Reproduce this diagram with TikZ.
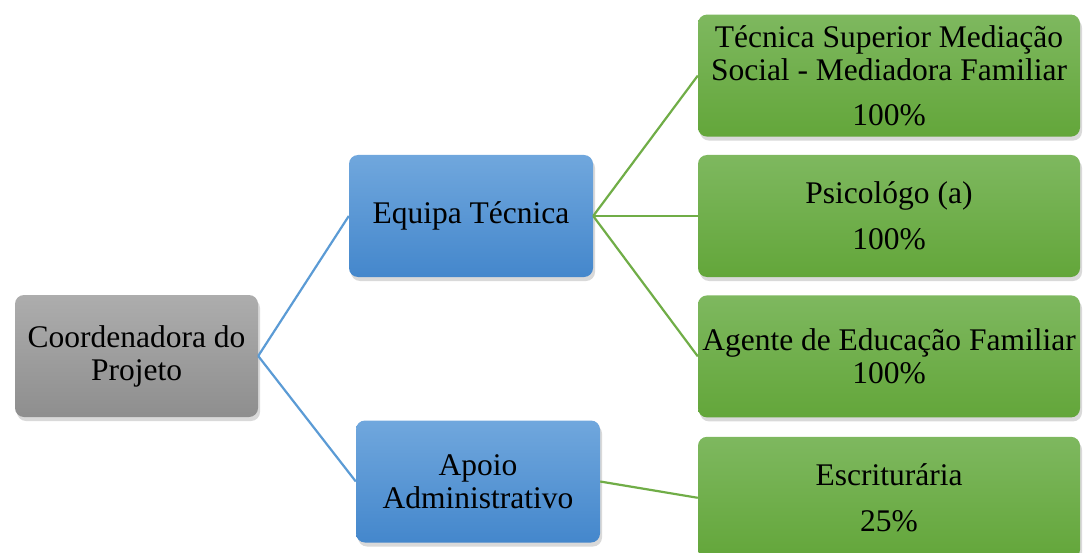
\documentclass[tikz,border=0pt]{standalone}
\usepackage{fontspec}
\setmainfont{Liberation Serif}
\usetikzlibrary{positioning,shadows}

\definecolor{cinzaTopo}{HTML}{ADADAD}
\definecolor{cinzaBase}{HTML}{8E8E8E}
\definecolor{azulTopo}{HTML}{70A7DD}
\definecolor{azulBase}{HTML}{4487CC}
\definecolor{verdeTopo}{HTML}{7EB85F}
\definecolor{verdeBase}{HTML}{63A63A}
\definecolor{linhaAzul}{HTML}{5B9BD5}
\definecolor{linhaVerde}{HTML}{70AD47}

\begin{document}
\begin{tikzpicture}[
    x=1pt, y=-1pt,
    font=\fontsize{31.5}{33}\selectfont,
    caixa/.style={
		rectangle,
		rounded corners=9pt,
		align=center,
		inner xsep=0pt, inner ysep=2pt,
		minimum height=122pt,
		drop shadow={shadow xshift=2pt, shadow yshift=-4pt, opacity=0.3}
	},
	coord/.style={
		caixa,
		minimum width=243pt,
		top color=cinzaTopo, bottom color=cinzaBase
	},
	grupo/.style={
		caixa,
		minimum width=244pt,
		top color=azulTopo, bottom color=azulBase
	},
	funcao/.style={
		caixa,
		minimum width=382pt,
		top color=verdeTopo, bottom color=verdeBase
	},
	ramoA/.style={draw=linhaAzul, line width=2.2pt},
	ramoV/.style={draw=linhaVerde, line width=2.2pt}
  ]
  \clip (0,0) rectangle (1083,553);

  % primeiro nivel
  \node [coord] (coordenadora) at (136.5,356) {Coordenadora do\\Projeto};

  % segundo nivel
  \node [grupo] (equipa) at (471,216) {Equipa Técnica};
  \node [grupo] (apoio) at (478,481.5) {Apoio\\Administrativo};

  % terceiro nivel
  \node [funcao] (psicologo) at (889,216) {Psicológo (a)\\[13pt]100\%};
  \node [funcao, above=18pt of psicologo] (tecnica)
   {Técnica Superior Mediação\\Social - Mediadora Familiar\\[12pt]100\%};
  \node [funcao, below=18pt of psicologo] (agente)
   {Agente de Educação Familiar\\100\%};
  \node [funcao, below=19pt of agente] (escrituraria) {Escriturária\\[13pt]25\%};

  \draw [ramoA] (coordenadora.east) -- (equipa.west);
  \draw [ramoA] (coordenadora.east) -- (apoio.west);
  \draw [ramoV] (equipa.east) -- (tecnica.west);
  \draw [ramoV] (equipa.east) -- (psicologo.west);
  \draw [ramoV] (equipa.east) -- (agente.west);
  \draw [ramoV] (apoio.east) -- (escrituraria.west);

\end{tikzpicture}
\end{document}
